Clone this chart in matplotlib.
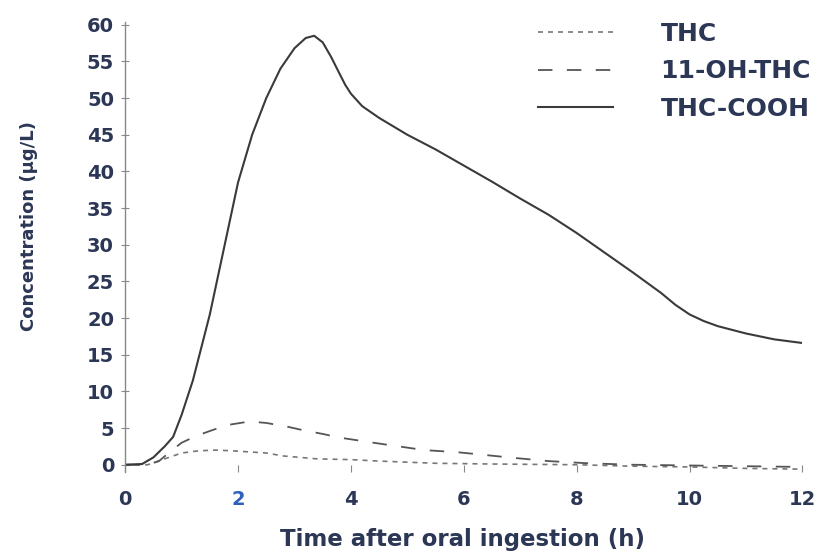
import matplotlib.pyplot as plt

# values
t_cooh = [0, 0.3, 0.5, 0.7, 0.85, 1.0, 1.2, 1.5, 1.75, 2.0, 2.25, 2.5, 2.75,
          3.0, 3.2, 3.35, 3.5, 3.65, 3.8, 3.9, 4.0, 4.2, 4.5, 5.0, 5.5, 6.0,
          6.5, 7.0, 7.5, 8.0, 8.5, 9.0, 9.5, 9.75, 10.0, 10.25, 10.5, 11.0,
          11.5, 12.0]
c_cooh = [0, 0.1, 1.0, 2.5, 3.8, 6.8, 11.5, 20.5, 29.5, 38.5, 45, 50, 54,
          56.8, 58.2, 58.5, 57.6, 55.6, 53.3, 51.8, 50.6, 48.9, 47.3, 45,
          43, 40.8, 38.6, 36.3, 34.1, 31.6, 28.9, 26.2, 23.4, 21.8, 20.5,
          19.6, 18.9, 17.9, 17.1, 16.6]

t_oh = [0, 0.4, 0.6, 0.8, 1.0, 1.25, 1.5, 1.8, 2.2, 2.5, 2.87, 3.1, 3.5, 3.8,
        4.4, 5.3, 5.9, 6.8, 7.5, 8.2, 9.0, 10.0, 11.0, 12.0]
c_oh = [0, 0, 0.5, 1.8, 3.0, 3.9, 4.6, 5.4, 5.9, 5.7, 5.2, 4.8, 4.2, 3.7,
        3.0, 2.0, 1.7, 1.0, 0.5, 0.2, 0.0, -0.1, -0.2, -0.3]

t_thc = [0, 0.4, 0.7, 1.0, 1.3, 1.6, 1.9, 2.5, 2.8, 3.4, 4.0, 4.5, 5.5, 6.5,
         8.0, 9.0, 10.0, 11.0, 12.0]
c_thc = [0, 0, 0.8, 1.6, 1.9, 2.0, 1.9, 1.6, 1.2, 0.8, 0.7, 0.5, 0.2, 0.1,
         0.0, -0.2, -0.3, -0.5, -0.6]

x_ticks = [0, 2, 4, 6, 8, 10, 12]
y_ticks = list(range(0, 61, 5))

text_col = "#2c3756"
plt.rcParams["font.family"] = ["DejaVu Sans"]
plt.rcParams["font.weight"] = "bold"
plt.rcParams["axes.labelweight"] = "bold"

fig = plt.figure(figsize=(8.18, 5.6), dpi=100)
ax = fig.add_axes([0.153, 0.157, 0.828, 0.804])

ax.plot(t_thc, c_thc, color="#777777", linewidth=1.2, linestyle=(0, (3, 3)),
        label="THC")
ax.plot(t_oh, c_oh, color="#555555", linewidth=1.3, linestyle=(0, (8, 8)),
        label="11-OH-THC")
ax.plot(t_cooh, c_cooh, color="#3a3a3a", linewidth=1.5, label="THC-COOH")

ax.set_xlim(0, 12)
ax.set_ylim(-1, 60.4)
ax.set_xticks(x_ticks)
ax.set_yticks(y_ticks)
ax.tick_params(axis="both", labelsize=14, colors="#888888",
               labelcolor=text_col)
ax.tick_params(axis="y", direction="inout", length=6, pad=5)
ax.tick_params(axis="x", direction="in", length=5, pad=13)
for lbl in ax.get_xticklabels():
    if lbl.get_text() == "2":
        lbl.set_color("#2f5fbf")

for side in ["top", "right", "bottom"]:
    ax.spines[side].set_visible(False)
ax.spines["left"].set_color("#888888")
ax.spines["left"].set_linewidth(1.0)

ax.set_xlabel("Time after oral ingestion (h)", fontsize=16.5, color=text_col)
ax.xaxis.set_label_coords(0.498, -0.124)
ax.set_ylabel("Concentration (µg/L)", fontsize=13, color=text_col)
ax.yaxis.set_label_coords(-0.128, 0.547)

leg = ax.legend(loc="upper left", bbox_to_anchor=(538 / 818, 1 - 22 / 560),
                bbox_transform=fig.transFigure, frameon=False,
                fontsize=18, handlelength=3.0, handletextpad=1.9,
                labelspacing=0.54, borderpad=0, borderaxespad=0)
for txt in leg.get_texts():
    txt.set_color(text_col)

fig.savefig("out.png", dpi=100, facecolor="white")
